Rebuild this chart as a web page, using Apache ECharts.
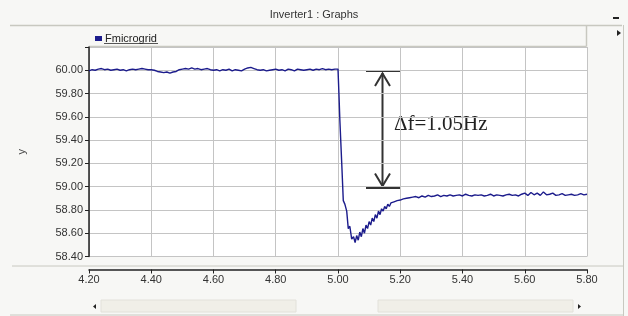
<!DOCTYPE html>
<html>
<head>
<meta charset="utf-8">
<script src="https://cdn.jsdelivr.net/npm/echarts@6/dist/echarts.min.js"></script>
<style>
  html, body { margin: 0; padding: 0; background: #f7f7f5; }
  #main { width: 628px; height: 316px; }
</style>
</head>
<body>
<div id="main"></div>
<script>
// 数据 (s, Hz)
var preStart = 4.20, preStep = 0.01;
var preHz = [
  59.995, 60.005, 60.00, 60.01, 60.015, 60.005, 60.01, 60.00, 60.005, 60.01,
  60.00, 60.005, 59.995, 60.005, 60.01, 60.005, 60.01, 60.015, 60.01, 60.005,
  60.005, 60.00, 59.99, 59.985, 59.98, 59.985, 59.975, 59.985, 59.99, 60.005,
  60.01, 60.015, 60.01, 60.02, 60.01, 60.015, 60.005, 60.01, 60.015, 60.005,
  60.00, 60.005, 59.995, 60.005, 60.00, 60.01, 59.995, 60.005, 60.00, 59.995,
  60.01, 60.02, 60.025, 60.015, 60.005, 60.00, 60.005, 59.995, 60.00, 60.005,
  60.01, 60.00, 60.005, 59.995, 60.01, 60.005, 59.995, 60.01, 60.005, 60.00,
  60.005, 60.01, 60.00, 60.01, 60.005, 60.015, 60.005, 60.01, 60.005, 60.01
];
var dropTime = [5.000, 5.003, 5.006, 5.012, 5.017, 5.022, 5.028, 5.033, 5.038, 5.044, 5.050, 5.055];
var dropHz   = [60.01, 59.80, 59.57, 59.20, 58.88, 58.85, 58.79, 58.64, 58.66, 58.55, 58.57, 58.52];
var recStart = 5.06, recStep = 0.005;
var recHz = [
  58.58, 58.54, 58.61, 58.57, 58.64, 58.60, 58.67, 58.64, 58.70, 58.67,
  58.73, 58.70, 58.76, 58.73, 58.79, 58.76, 58.81, 58.79, 58.83, 58.81,
  58.85, 58.83, 58.86, 58.845, 58.87, 58.855, 58.88, 58.865, 58.885, 58.875,
  58.895, 58.88, 58.90, 58.885, 58.905, 58.89, 58.91, 58.895, 58.915
];
var tailStart = 5.26, tailStep = 0.01;
var tailHz = [
  58.905, 58.92, 58.91, 58.925, 58.915, 58.92, 58.93, 58.915, 58.925, 58.92,
  58.93, 58.92, 58.925, 58.93, 58.92, 58.935, 58.925, 58.92, 58.93, 58.925,
  58.93, 58.92, 58.925, 58.935, 58.92, 58.93, 58.925, 58.92, 58.93, 58.935,
  58.925, 58.93, 58.92, 58.935, 58.945, 58.925, 58.95, 58.93, 58.945, 58.925,
  58.955, 58.93, 58.935, 58.945, 58.925, 58.93, 58.94, 58.925, 58.93, 58.935,
  58.925, 58.93, 58.94, 58.93, 58.935
];
var xMin = 4.2, xMax = 5.8, xStep = 0.2;
var yMin = 58.4, yMax = 60.2, yStep = 0.2;

function seg(start, step, vals) {
  return vals.map(function (v, i) { return [+(start + i * step).toFixed(3), v]; });
}
var points = seg(preStart, preStep, preHz)
  .concat(dropTime.map(function (t, i) { return [t, dropHz[i]]; }))
  .concat(seg(recStart, recStep, recHz))
  .concat(seg(tailStart, tailStep, tailHz));

var FONT = '"Liberation Sans", Arial, sans-serif';
var chart = echarts.init(document.getElementById('main'));

chart.setOption({
  animation: false,
  textStyle: { fontFamily: FONT },
  legend: {
    data: ['Fmicrogrid'], left: 90, top: 28,
    icon: 'rect', itemWidth: 7, itemHeight: 5, itemGap: 4,
    textStyle: { fontSize: 11, color: '#222', fontFamily: FONT, padding: [0, 0, 0, -2] }
  },
  grid: {
    left: 89, right: 41, top: 47, bottom: 59.5,
    show: true, backgroundColor: '#fff', borderWidth: 0
  },
  xAxis: {
    type: 'value', min: xMin, max: xMax, interval: xStep,
    offset: 13,
    axisLine: { onZero: false, lineStyle: { color: '#222', width: 1.5 } },
    axisTick: { length: 4, lineStyle: { color: '#222' } },
    axisLabel: { fontSize: 11, color: '#333', margin: 5, formatter: function (v) { return v.toFixed(2); } },
    splitLine: { lineStyle: { color: '#c4c4c4', width: 1 } }
  },
  yAxis: {
    type: 'value', min: yMin, max: yMax, interval: yStep,
    name: 'y', nameLocation: 'middle', nameRotate: 90, nameGap: 62,
    nameTextStyle: { fontSize: 11, color: '#444' },
    axisLine: { lineStyle: { color: '#222', width: 1.5 } },
    axisTick: { length: 4, lineStyle: { color: '#222' } },
    axisLabel: {
      fontSize: 11, color: '#333', margin: 6,
      formatter: function (v) { return v > 60.1 ? '' : v.toFixed(2); }
    },
    splitLine: { lineStyle: { color: '#c4c4c4', width: 1 } }
  },
  series: [{
    name: 'Fmicrogrid', type: 'line', data: points,
    showSymbol: false, color: '#1c1c8c',
    lineStyle: { color: '#1c1c8c', width: 1.4 }
  }],
  graphic: [
    // 窗口外框
    { type: 'text', left: 'center', top: 9, style: { text: 'Inverter1 : Graphs', font: '11px ' + FONT, fill: '#333' } },
    { type: 'line', shape: { x1: 10, y1: 25.5, x2: 622, y2: 25.5 }, style: { stroke: '#c8c8c0', lineWidth: 1.5 } },
    { type: 'rect', shape: { x: 613, y: 17, width: 6, height: 2 }, style: { fill: '#222' } },
    { type: 'polygon', shape: { points: [[617, 30], [621, 33], [617, 36]] }, style: { fill: '#222' } },
    { type: 'line', shape: { x1: 623.5, y1: 25, x2: 623.5, y2: 316 }, style: { stroke: '#c8c8c0', lineWidth: 1 } },
    { type: 'line', shape: { x1: 586.5, y1: 25, x2: 586.5, y2: 46.5 }, style: { stroke: '#c8c8c0', lineWidth: 1.5 } },
    { type: 'line', shape: { x1: 89, y1: 46.5, x2: 586.5, y2: 46.5 }, style: { stroke: '#c8c8c0', lineWidth: 1.5 } },
    { type: 'line', shape: { x1: 104, y1: 43.5, x2: 158, y2: 43.5 }, style: { stroke: '#555', lineWidth: 1 } },
    { type: 'line', shape: { x1: 12, y1: 266, x2: 624, y2: 266 }, style: { stroke: '#c8c8c0', lineWidth: 1 } },
    // 滚动条
    { type: 'polygon', shape: { points: [[96, 304], [93, 306.5], [96, 309]] }, style: { fill: '#222' } },
    { type: 'rect', shape: { x: 101, y: 300, width: 195, height: 12 }, style: { fill: '#f0efe8', stroke: '#e2e1da' } },
    { type: 'rect', shape: { x: 378, y: 300, width: 195, height: 12 }, style: { fill: '#f0efe8', stroke: '#e2e1da' } },
    { type: 'polygon', shape: { points: [[578, 304], [581, 306.5], [578, 309]] }, style: { fill: '#222' } },
    { type: 'line', shape: { x1: 10, y1: 315, x2: 624, y2: 315 }, style: { stroke: '#c8c8c0', lineWidth: 1 } },
    // Δf 标注
    { type: 'line', shape: { x1: 366, y1: 71, x2: 401, y2: 71 }, style: { stroke: '#333', lineWidth: 2 } },
    { type: 'line', shape: { x1: 366, y1: 188, x2: 401, y2: 188 }, style: { stroke: '#333', lineWidth: 2 } },
    { type: 'line', shape: { x1: 382.5, y1: 73, x2: 382.5, y2: 186 }, style: { stroke: '#333', lineWidth: 2 } },
    { type: 'polyline', shape: { points: [[375, 86], [382.5, 73.5], [390, 86]] }, style: { stroke: '#333', lineWidth: 2, fill: null } },
    { type: 'polyline', shape: { points: [[375, 173.5], [382.5, 186], [390, 173.5]] }, style: { stroke: '#333', lineWidth: 2, fill: null } },
    { type: 'text', left: 394, top: 114, style: { text: 'Δf=1.05Hz', font: '21px "Liberation Serif", "Times New Roman", serif', fill: '#222' } }
  ]
});
</script>
</body>
</html>
